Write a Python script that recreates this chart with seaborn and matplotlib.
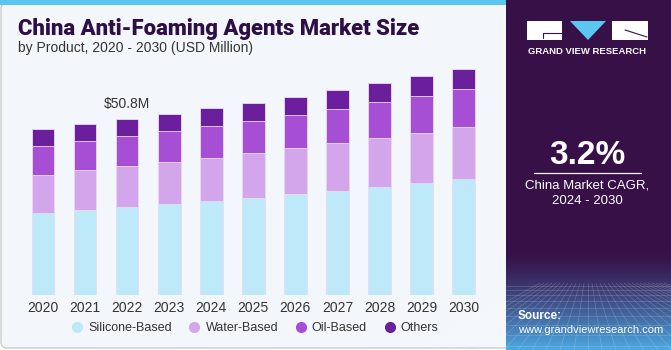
import numpy as np
import pandas as pd
import seaborn as sns
import matplotlib.pyplot as plt
from matplotlib.patches import FancyBboxPatch, Rectangle, Polygon
from matplotlib.lines import Line2D

# data (USD million)
years = ['2020', '2021', '2022', '2023', '2024', '2025', '2026', '2027', '2028', '2029', '2030']
silicone = [23.7, 24.7, 25.4, 26.2, 27.2, 28.1, 29.1, 30.1, 31.3, 32.3, 33.6]
water = [11.1, 11.4, 11.8, 12.1, 12.4, 12.8, 13.3, 13.7, 14.1, 14.6, 15.0]
oil = [8.3, 8.5, 8.8, 9.0, 9.3, 9.4, 9.7, 10.0, 10.3, 10.7, 11.0]
others = [4.8, 4.8, 4.8, 4.9, 5.0, 5.2, 5.2, 5.5, 5.6, 5.8, 5.8]
segments = ['Silicone-Based', 'Water-Based', 'Oil-Based', 'Others']
colors = ['#BEE9F9', '#D3A6EC', '#A64FD5', '#6C1F9C']
highlight_year = '2022'
highlight_label = '$50.8M'
cagr = '3.2%'

df = pd.DataFrame({'year': years, 'Silicone-Based': silicone, 'Water-Based': water,
                   'Oil-Based': oil, 'Others': others})

sns.set_style('white')
plt.rcParams['font.family'] = ['Liberation Sans', 'DejaVu Sans']

W, H = 671, 350
fig = plt.figure(figsize=(W / 100, H / 100), dpi=100)
fig.patch.set_facecolor('white')

# background panel + top strip
bg = fig.add_axes([0, 0, 1, 1])
bg.set_xlim(0, W)
bg.set_ylim(H, 0)
bg.axis('off')
bg.add_patch(FancyBboxPatch((1, 3), 515, 345, boxstyle='round,pad=0,rounding_size=6',
                            fc='#F3F7FB', ec='#CCCCCC', lw=1))
bg.add_patch(Rectangle((0, 0), 510, 5, fc='#5BC6F0', ec='none'))

# right panel with gradient at the bottom
grad = np.linspace(0, 1, 200)[:, None]
top_c = np.array([0x37, 0x10, 0x48]) / 255
bot_c = np.array([0x4C, 0xA8, 0xE0]) / 255
t = np.clip((grad - 0.72) / 0.28, 0, 1) ** 1.3
img = top_c * (1 - t[..., None]) + bot_c * t[..., None]
img = np.repeat(img, 2, axis=1)
bg.imshow(img, extent=(506, 671, 350, 0), aspect='auto', zorder=1)
# perspective grid on the lower part
for k in range(-12, 20):
    bg.plot([588 + k * 4, 588 + k * 14], [283, 350], color='white', lw=0.4, alpha=0.25, zorder=2)
for yy in [286, 290, 295, 301, 308, 316, 325, 335, 346]:
    bg.plot([506, 671], [yy, yy], color='white', lw=0.4, alpha=0.25, zorder=2)

# logo
bg.add_patch(Rectangle((527, 21), 35, 19, fc='white', ec='none', zorder=3))
bg.add_patch(Polygon([(570, 21), (606, 21), (588, 40)], fc='#5BC6F0', ec='none', zorder=3))
bg.add_patch(Rectangle((612, 21), 36, 19, fc='white', ec='none', zorder=3))
bg.plot([543, 562], [33, 33], color='#37104A', lw=0.8, zorder=4)
bg.plot([543, 543], [33, 38], color='#37104A', lw=0.8, zorder=4)
bg.plot([625, 647], [30, 37], color='#37104A', lw=0.8, zorder=4)
bg.text(587.5, 52, 'GRAND VIEW RESEARCH', color='white', fontsize=6.8, fontweight='bold',
        ha='center', va='center', zorder=4)

bg.text(587.5, 155, cagr, color='white', fontsize=24, fontweight='bold', ha='center', va='center', zorder=4)
bg.plot([534, 641], [173, 173], color='white', lw=0.9, zorder=4)
bg.text(587.5, 185, 'China Market CAGR,', color='white', fontsize=9.5, ha='center', va='center', zorder=4)
bg.text(587.5, 201, '2024 - 2030', color='white', fontsize=9.5, ha='center', va='center', zorder=4)
bg.text(518, 316, 'Source:', color='white', fontsize=8.5, fontweight='bold', ha='left', va='center', zorder=4)
bg.text(518, 330, 'www.grandviewresearch.com', color='white', fontsize=8, ha='left', va='center', zorder=4)

# titles
bg.text(18, 29, 'China Anti-Foaming Agents Market Size', color='#2E0F45', fontsize=15.8,
        fontweight='heavy', ha='left', va='center', family=['Roboto', 'DejaVu Sans'])
bg.text(18, 48, 'by Product, 2020 - 2030 (USD Million)', color='#333333', fontsize=10,
        ha='left', va='center')

# chart
ax = fig.add_axes([22 / W, 55 / H, 462.6 / W, 235 / H])
ax.patch.set_alpha(0)
cum = df[segments].cumsum(axis=1)
for seg, col in reversed(list(zip(segments, colors))):
    sns.barplot(x=df['year'], y=cum[seg], color=col, width=0.54, ax=ax,
                saturation=1, linewidth=0.6, edgecolor='#E8DDF3')
ax.set_xlim(-0.5, 10.5)
ax.set_ylim(0, 67.9)
ax.set_xlabel('')
ax.set_ylabel('')
ax.set_yticks([])
ax.tick_params(axis='x', length=0, labelsize=10, colors='#333333', pad=4)
sns.despine(ax=ax, left=True, bottom=True)

i = years.index(highlight_year)
ax.text(i, cum['Others'][i] + 2.4, highlight_label, ha='center', va='bottom',
        fontsize=10, color='#333333')

handles = [Line2D([], [], marker='o', ls='', markersize=7, markerfacecolor=c, markeredgecolor=c)
           for c in colors]
fig.legend(handles, segments, loc='center', bbox_to_anchor=(254 / W, 1 - 328 / H), ncol=4,
           frameon=False, handletextpad=0.3, columnspacing=1.2, handlelength=1.2,
           labelcolor='#333333', fontsize=9)

fig.savefig('out.png', dpi=100)
